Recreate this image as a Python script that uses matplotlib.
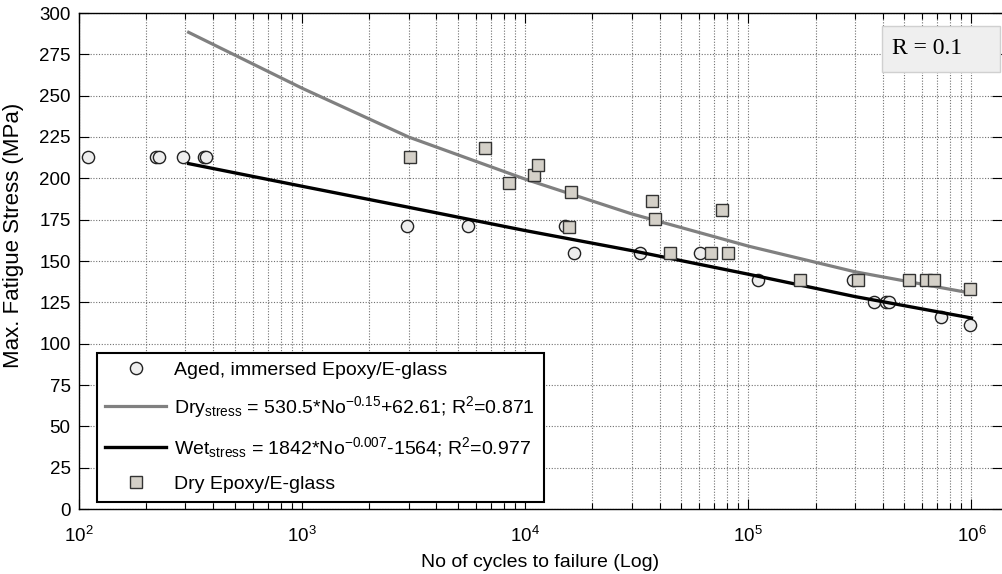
import matplotlib
matplotlib.use('Agg')
import matplotlib.pyplot as plt
from matplotlib.ticker import LogLocator, MultipleLocator, NullFormatter
from matplotlib.patches import Rectangle

plt.rcParams['font.family'] = ['Liberation Sans', 'DejaVu Sans']
plt.rcParams['mathtext.fontset'] = 'custom'
plt.rcParams['mathtext.rm'] = 'Liberation Sans'
plt.rcParams['mathtext.it'] = 'Liberation Sans:italic'
plt.rcParams['mathtext.default'] = 'regular'

# ---- data ----
aged_N = [110, 222, 228, 294, 365, 372, 2950, 5560, 15000, 16500, 32800, 61000,
          110000, 294000, 365000, 412000, 426000, 730000, 988000]
aged_S = [213, 213, 213, 213, 213, 213, 171, 171, 171, 155, 155, 155,
          138.5, 138.5, 125, 125, 125, 116.3, 111.4]

dry_N = [3030, 6600, 8450, 10900, 11400, 15700, 16000, 37100, 38100, 44500,
         68200, 75900, 80700, 170500, 310000, 527000, 626000, 677000, 988000]
dry_S = [213, 218.5, 197, 202.3, 207.8, 170.8, 191.6, 186, 175.5, 154.7,
         155, 181, 155, 138.5, 138.5, 138.5, 138.5, 138.5, 133.3]

fit_N = [310, 1e3, 3e3, 1e4, 3e4, 1e5, 3e5, 1e6]
dry_fit_S = [288.3, 254.5, 225.0, 199.5, 178.5, 159.0, 143.5, 130.5]
wet_fit_S = [208.9, 195.2, 182.5, 168.4, 156.3, 142.0, 128.5, 115.5]

x_limits = (100, 1.37e6)
y_limits = (0, 300)

label_aged = 'Aged, immersed Epoxy/E-glass'
label_dryfit = 'Dry$_{stress}$ = 530.5*No$^{-0.15}$+62.61; R$^{2}$=0.871'
label_wetfit = 'Wet$_{stress}$ = 1842*No$^{-0.007}$-1564; R$^{2}$=0.977'
label_dry = 'Dry Epoxy/E-glass'

W, H = 1003, 574
fig = plt.figure(figsize=(W / 100, H / 100), dpi=100)
ax = fig.add_axes([79 / W, (H - 509) / H, (1002 - 79) / W, (509 - 13) / H])

ax.set_xscale('log')
ax.set_xlim(*x_limits)
ax.set_ylim(*y_limits)
ax.yaxis.set_major_locator(MultipleLocator(25))
ax.xaxis.set_major_locator(LogLocator(base=10, numticks=10))
ax.xaxis.set_minor_locator(LogLocator(base=10, subs=range(2, 10), numticks=40))
ax.xaxis.set_minor_formatter(NullFormatter())

gridkw = dict(ls=(0, (1, 1.5)), color='#707070', lw=0.8)
ax.grid(True, which='major', axis='both', **gridkw)
ax.grid(True, which='minor', axis='x', **gridkw)
ax.set_axisbelow(True)

ax.tick_params(which='both', direction='in', top=True, right=True,
               labelsize=13.5, color='black', width=0.8)
ax.tick_params(which='major', length=7)
ax.tick_params(which='minor', length=4)
ax.tick_params(axis='x', which='major', pad=12)
ax.tick_params(axis='y', which='major', pad=6)
ax.spines['right'].set_visible(False)
for s in ['left', 'top', 'bottom']:
    ax.spines[s].set_linewidth(1.0)

h_aged, = ax.plot(aged_N, aged_S, ls='none', marker='o', ms=8.8,
                  mfc='#eeeeee', mec='#222222', mew=1.0, zorder=3)
h_dryfit, = ax.plot(fit_N, dry_fit_S, color='#808080', lw=2.3, zorder=4)
h_wetfit, = ax.plot(fit_N, wet_fit_S, color='black', lw=2.4, zorder=4)
h_dry, = ax.plot(dry_N, dry_S, ls='none', marker='s', ms=9.2,
                 mfc='#d4d0c8', mec='#333333', mew=1.0, zorder=5)

leg = ax.legend([h_aged, h_dryfit, h_wetfit, h_dry],
                [label_aged, label_dryfit, label_wetfit, label_dry],
                loc='lower left', bbox_to_anchor=(96.7 / W, (H - 501.7) / H),
                bbox_transform=fig.transFigure, borderaxespad=0,
                fancybox=False, edgecolor='black', framealpha=1,
                fontsize=14, handlelength=3.1, handletextpad=0.45,
                labelspacing=0.78, borderpad=0.45)
leg.get_frame().set_linewidth(1.5)
leg.set_zorder(10)

ax.set_xlabel('No of cycles to failure (Log)', fontsize=14, labelpad=6)
ax.set_ylabel('Max. Fatigue Stress (MPa)', fontsize=16)
ax.yaxis.set_label_coords(24 / W, 1 - 235 / H, transform=fig.transFigure)

rect = Rectangle((881.7 / W, 1 - 71.7 / H), (1000 - 881.7) / W, 46 / H,
                 transform=fig.transFigure, fc='#efefef', ec='#d0d0d0',
                 lw=1.0, zorder=20, clip_on=False)
fig.patches.append(rect)
fig.text(891.7 / W, 1 - 48 / H, 'R = 0.1', family='Liberation Serif',
         fontsize=17, va='center', ha='left', zorder=21)

fig.savefig('out.png', dpi=100)
